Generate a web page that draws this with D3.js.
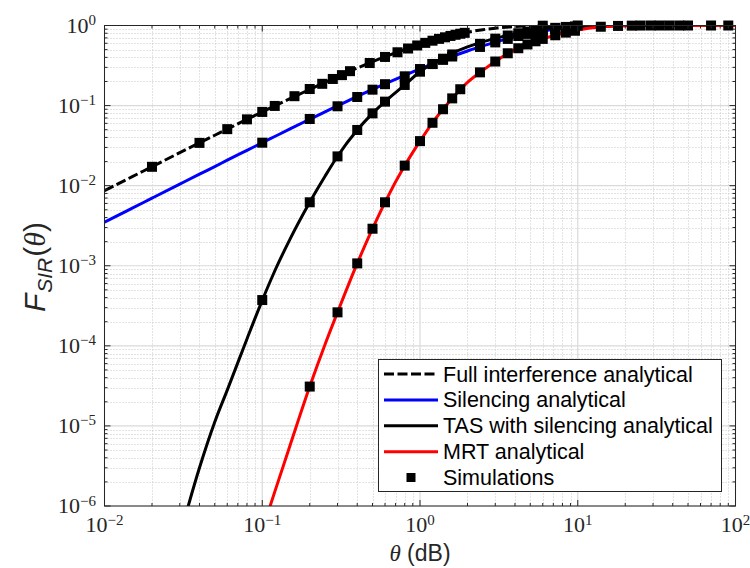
<!DOCTYPE html>
<html>
<head>
<meta charset="utf-8">
<script src="https://cdn.jsdelivr.net/npm/d3@7"></script>
<style>
body { margin: 0; background: #fff; }
</style>
</head>
<body>
<svg id="chart" width="750" height="568"></svg>
<script>
// analytical curves, sampled on one shared theta grid
var lineX = [0.01, 0.012, 0.015, 0.02, 0.03, 0.04, 0.05, 0.06, 0.08, 0.1,
  0.12, 0.15, 0.2, 0.25, 0.3, 0.4, 0.5, 0.6, 0.8, 1,
  1.2, 1.5, 2, 2.5, 3, 4, 5, 6, 8, 10,
  12, 15, 20, 30, 50, 100];

var fullY = [0.00866, 0.01039, 0.01296, 0.01725, 0.0258, 0.0342, 0.0426, 0.0508, 0.0673, 0.0833,
  0.0990, 0.1222, 0.1593, 0.1954, 0.2297, 0.2939, 0.3528, 0.4070, 0.5012, 0.5810,
  0.6479, 0.7288, 0.8245, 0.8864, 0.9265, 0.9692, 0.9871, 0.9946, 0.9990, 0.9998,
  1, 1, 1, 1, 1, 1];

var silY = [0.0035, 0.0042, 0.00524, 0.00698, 0.01045, 0.0139, 0.0173, 0.0208, 0.0276, 0.0344,
  0.0411, 0.0511, 0.0675, 0.0836, 0.0993, 0.130, 0.159, 0.187, 0.239, 0.287,
  0.331, 0.392, 0.480, 0.556, 0.620, 0.723, 0.800, 0.855, 0.925, 0.962,
  0.980, 0.993, 0.999, 1, 1, 1];

var tasY = [null, null, null, null, 4.2e-7, 3.0e-6, 1.12e-5, 2.8e-5, 1.22e-4, 3.7e-4,
  8.6e-4, 2.15e-3, 6.2e-3, 0.0131, 0.0233, 0.0496, 0.080, 0.112, 0.181, 0.265,
  0.335, 0.425, 0.540, 0.625, 0.690, 0.790, 0.855, 0.900, 0.955, 0.980,
  0.990, 0.997, 0.9995, 1, 1, 1];

var mrtY = [null, null, null, null, null, null, null, null, null, 5e-7,
  1.5e-6, 5.7e-6, 3.1e-5, 1.04e-4, 2.62e-4, 1.07e-3, 2.9e-3, 6.2e-3, 0.0178, 0.036,
  0.061, 0.106, 0.195, 0.275, 0.355, 0.50, 0.60, 0.68, 0.80, 0.88,
  0.93, 0.97, 0.99, 0.999, 1, 1];

// simulation points
var fullSimX = [0.02, 0.04, 0.06, 0.08, 0.1, 0.12, 0.16, 0.2, 0.24, 0.28, 0.32, 0.36, 0.48, 0.6,
  0.72, 0.84, 0.96, 1.08, 1.2, 1.32, 1.44, 1.56, 1.68, 1.8, 1.92, 6, 10];
var fullSimY = [0.0172, 0.0342, 0.0508, 0.0673, 0.0833, 0.099, 0.131, 0.161, 0.187, 0.215, 0.24, 0.269, 0.34, 0.405,
  0.463, 0.516, 0.563, 0.607, 0.646, 0.681, 0.712, 0.741, 0.766, 0.789, 0.81, 0.995, 1];

var silSimX = [0.1, 0.2, 0.3, 0.4, 0.5, 0.6, 0.8, 1, 1.2, 1.4, 1.6, 2.4, 3, 3.6, 4.2, 4.8, 5.4, 6, 7.2, 8.4, 9.6];
var silSimY = [0.0344, 0.068, 0.098, 0.128, 0.158, 0.185, 0.232, 0.286, 0.331, 0.372, 0.41, 0.54, 0.615, 0.68,
  0.74, 0.785, 0.82, 0.85, 0.895, 0.93, 0.955];

var tasSimX = [0.1, 0.2, 0.3, 0.4, 0.5, 0.6, 0.8, 1, 1.2, 1.4, 1.6, 2.4, 3, 3.6, 4.2, 4.8, 5.4, 6, 7.2, 8.4, 9.6];
var tasSimY = [3.73e-4, 6.2e-3, 0.0232, 0.0496, 0.080, 0.112, 0.181, 0.265, 0.33, 0.385, 0.435, 0.59, 0.685, 0.75,
  0.80, 0.84, 0.875, 0.90, 0.935, 0.96, 0.975];

var mrtSimX = [0.2, 0.3, 0.4, 0.5, 0.6, 0.8, 1, 1.2, 1.4, 1.6, 1.8, 2.4, 3, 3.6, 4.2, 4.8, 5.4, 6, 7.2, 8.4, 9.6,
  14, 18, 22, 25, 29, 33, 38, 44, 50, 70, 90];
var mrtSimY = [3.1e-5, 2.62e-4, 1.07e-3, 2.9e-3, 6.2e-3, 0.0178, 0.036, 0.061, 0.090, 0.123, 0.160, 0.26, 0.355, 0.45,
  0.52, 0.58, 0.635, 0.68, 0.755, 0.815, 0.86, 0.965, 0.988, 0.996, 0.999, 1, 1, 1, 1, 1, 1, 1];

var xDomain = [1e-2, 1e2];
var yDomain = [1e-6, 1];
var legendLabels = ['Full interference analytical', 'Silencing analytical',
  'TAS with silencing analytical', 'MRT analytical', 'Simulations'];

var plotLeft = 104.5, plotRight = 735.5, plotTop = 25.5, plotBottom = 506;
var axisColor = '#262626';

var svg = d3.select('#chart');

var x = d3.scaleLog().domain(xDomain).range([plotLeft, plotRight]);
var y = d3.scaleLog().domain(yDomain).range([plotBottom, plotTop]);

function isMajor(v) {
  var l = Math.log10(v);
  return Math.abs(l - Math.round(l)) < 1e-6;
}

var xTicks = x.ticks();
var yTicks = y.ticks();

// grid
var grid = svg.append('g');
grid.selectAll('.xminor')
  .data(xTicks.filter(function(d) { return !isMajor(d); }))
  .enter().append('line')
  .attr('x1', function(d) { return Math.round(x(d)) + 0.5; })
  .attr('x2', function(d) { return Math.round(x(d)) + 0.5; })
  .attr('y1', plotTop).attr('y2', plotBottom)
  .attr('stroke', '#c6c6c6').attr('stroke-width', 1)
  .attr('stroke-dasharray', '1,2');
grid.selectAll('.yminor')
  .data(yTicks.filter(function(d) { return !isMajor(d); }))
  .enter().append('line')
  .attr('y1', function(d) { return Math.round(y(d)) + 0.5; })
  .attr('y2', function(d) { return Math.round(y(d)) + 0.5; })
  .attr('x1', plotLeft).attr('x2', plotRight)
  .attr('stroke', '#c6c6c6').attr('stroke-width', 1)
  .attr('stroke-dasharray', '1,2');
grid.selectAll('.xmajor')
  .data(xTicks.filter(isMajor))
  .enter().append('line')
  .attr('x1', function(d) { return x(d); })
  .attr('x2', function(d) { return x(d); })
  .attr('y1', plotTop).attr('y2', plotBottom)
  .attr('stroke', '#dadada').attr('stroke-width', 1.2);
grid.selectAll('.ymajor')
  .data(yTicks.filter(isMajor))
  .enter().append('line')
  .attr('y1', function(d) { return y(d); })
  .attr('y2', function(d) { return y(d); })
  .attr('x1', plotLeft).attr('x2', plotRight)
  .attr('stroke', '#dadada').attr('stroke-width', 1.2);

// clip for the analytical lines
svg.append('clipPath').attr('id', 'plotClip')
  .append('rect')
  .attr('x', plotLeft).attr('y', plotTop)
  .attr('width', plotRight - plotLeft).attr('height', plotBottom - plotTop);

var line = d3.line()
  .defined(function(d) { return d[1] != null; })
  .x(function(d) { return x(d[0]); })
  .y(function(d) { return y(d[1]); })
  .curve(d3.curveMonotoneX);

var series = [
  { values: fullY, color: '#000000', dash: '10,3.5' },
  { values: silY, color: '#0000ff', dash: null },
  { values: tasY, color: '#000000', dash: null },
  { values: mrtY, color: '#ff0000', dash: null }
];

var lines = svg.append('g').attr('clip-path', 'url(#plotClip)');
series.forEach(function(s) {
  lines.append('path')
    .datum(lineX.map(function(v, i) { return [v, s.values[i]]; }))
    .attr('d', line)
    .attr('fill', 'none')
    .attr('stroke', s.color)
    .attr('stroke-width', 3)
    .attr('stroke-dasharray', s.dash);
});

// simulation markers
var ms = 10;
var sims = [[fullSimX, fullSimY], [silSimX, silSimY], [tasSimX, tasSimY], [mrtSimX, mrtSimY]];
var markers = svg.append('g');
sims.forEach(function(s) {
  markers.selectAll(null)
    .data(s[0].map(function(v, i) { return [v, s[1][i]]; }))
    .enter().append('rect')
    .attr('x', function(d) { return x(d[0]) - ms / 2; })
    .attr('y', function(d) { return y(d[1]) - ms / 2; })
    .attr('width', ms).attr('height', ms)
    .attr('fill', '#000');
});

// axes box and ticks
var axes = svg.append('g');
axes.append('rect')
  .attr('x', plotLeft).attr('y', plotTop)
  .attr('width', plotRight - plotLeft).attr('height', plotBottom - plotTop)
  .attr('fill', 'none').attr('stroke', axisColor).attr('stroke-width', 1);

function tickLen(d) { return isMajor(d) ? 6 : 3; }

axes.selectAll('.xt')
  .data(xTicks)
  .enter().append('path')
  .attr('d', function(d) {
    var px = x(d), t = tickLen(d);
    return 'M' + px + ',' + plotBottom + 'v' + (-t) + 'M' + px + ',' + plotTop + 'v' + t;
  })
  .attr('stroke', axisColor).attr('stroke-width', 1);
axes.selectAll('.yt')
  .data(yTicks)
  .enter().append('path')
  .attr('d', function(d) {
    var py = y(d), t = tickLen(d);
    return 'M' + plotLeft + ',' + py + 'h' + t + 'M' + plotRight + ',' + py + 'h' + (-t);
  })
  .attr('stroke', axisColor).attr('stroke-width', 1);

// tick labels 10^n
function powLabel(sel) {
  sel.append('tspan').text('10');
  sel.append('tspan')
    .attr('dy', -7.5)
    .attr('font-size', 15)
    .text(function(d) {
      var e = Math.round(Math.log10(d));
      return e < 0 ? '\u2212' + (-e) : String(e);
    });
}

axes.selectAll('.xl')
  .data(xTicks.filter(isMajor))
  .enter().append('text')
  .attr('x', function(d) { return x(d); })
  .attr('y', 532)
  .attr('text-anchor', 'middle')
  .attr('font-family', 'Liberation Serif, serif')
  .attr('font-size', 22)
  .attr('fill', axisColor)
  .call(powLabel);

axes.selectAll('.yl')
  .data(yTicks.filter(isMajor))
  .enter().append('text')
  .attr('x', 96)
  .attr('y', function(d) { return y(d) + 7; })
  .attr('text-anchor', 'end')
  .attr('font-family', 'Liberation Serif, serif')
  .attr('font-size', 22)
  .attr('fill', axisColor)
  .call(powLabel);

// axis titles
var xt = svg.append('text')
  .attr('x', 420).attr('y', 561)
  .attr('text-anchor', 'middle')
  .attr('font-family', 'Liberation Sans, Arial, sans-serif')
  .attr('font-size', 23)
  .attr('fill', axisColor);
xt.append('tspan').attr('font-family', 'Liberation Serif, serif').attr('font-style', 'italic').text('\u03b8');
xt.append('tspan').text(' (dB)');

var yt = svg.append('text')
  .attr('transform', 'translate(45,267) rotate(-90)')
  .attr('text-anchor', 'middle')
  .attr('font-family', 'Liberation Sans, Arial, sans-serif')
  .attr('font-size', 30)
  .attr('fill', axisColor);
yt.append('tspan').attr('font-style', 'italic').text('F');
yt.append('tspan').attr('font-style', 'italic').attr('font-size', 21).attr('dx', 1).attr('dy', 7).text('SIR');
yt.append('tspan').attr('dx', 1).attr('dy', -7).text('(');
yt.append('tspan').attr('font-family', 'Liberation Serif, serif').attr('font-style', 'italic').text('\u03b8');
yt.append('tspan').text(')');

// legend
var lg = svg.append('g');
lg.append('rect')
  .attr('x', 378.5).attr('y', 359.5)
  .attr('width', 343).attr('height', 132)
  .attr('fill', '#fff').attr('stroke', axisColor).attr('stroke-width', 1);

var legendRows = legendLabels.map(function(label, i) {
  return { label: label, row: i, style: i < 4 ? series[i] : null };
});
var rowY = d3.scaleLinear().domain([0, 4]).range([374, 477.5]);

var items = lg.selectAll('.item')
  .data(legendRows)
  .enter().append('g');

items.filter(function(d) { return d.style; })
  .append('line')
  .attr('x1', 384).attr('x2', 438)
  .attr('y1', function(d) { return rowY(d.row); })
  .attr('y2', function(d) { return rowY(d.row); })
  .attr('stroke', function(d) { return d.style.color; })
  .attr('stroke-width', 3)
  .attr('stroke-dasharray', function(d) { return d.style.dash; });

items.filter(function(d) { return !d.style; })
  .append('rect')
  .attr('x', 411 - 4.5)
  .attr('y', function(d) { return rowY(d.row) - 4.5; })
  .attr('width', 9).attr('height', 9)
  .attr('fill', '#000');

items.append('text')
  .attr('x', 443)
  .attr('y', function(d) { return rowY(d.row) + 7.5; })
  .attr('font-family', 'Liberation Sans, Arial, sans-serif')
  .attr('font-size', 21.5)
  .attr('fill', '#000')
  .text(function(d) { return d.label; });
</script>
</body>
</html>
